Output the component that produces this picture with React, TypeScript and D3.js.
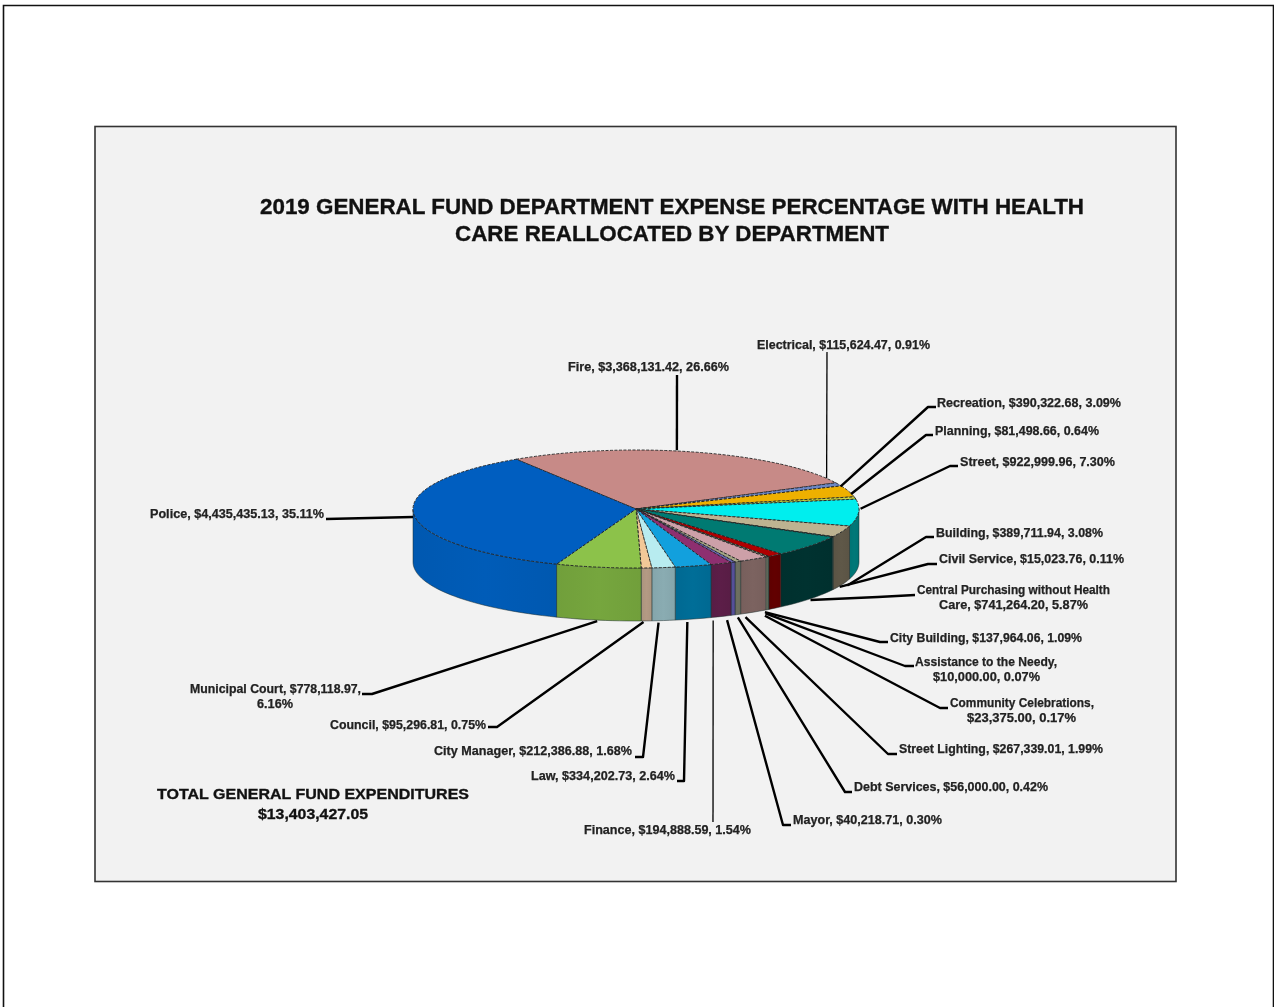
import React from "react";
import * as d3 from "d3";

const departments = ["Fire","Electrical","Recreation","Planning","Street","Building","Civil Service","Central Purchasing without Health Care","City Building","Assistance to the Needy","Community Celebrations","Street Lighting","Debt Services","Mayor","Finance","Law","City Manager","Council","Municipal Court","Police"];
const expenses = [3368131.42,115624.47,390322.68,81498.66,922999.96,389711.94,15023.76,741264.20,137964.06,10000,23375,267339.01,56000,40218.71,194888.59,334202.73,212386.88,95296.81,778118.97,4435435.13];
const topColors = ["#c78a87","#6a86c4","#eeb000","#c8d23c","#00eeee","#bdb391","#3c7a6a","#007a72","#b00000","#8f9f80","#aab08c","#cda0a8","#a4a684","#6a68b8","#8e2f70","#12a0dd","#b8ecf0","#f2c898","#8cc24a","#005ec0"];
const sideColors = ["#8a5f5d","#4a5e8a","#a67b00","#8c9329","#007878","#5f5848","#2a5a50","#003230","#620000","#6b7b6a","#78806c","#7c6360","#6e7060","#56509a","#5c1e48","#006e98","#8aacb2","#b49a84","#76a63e","#005cb8"];

// label text per department, as printed in the source
const labelLines = [
  ["Fire, $3,368,131.42, 26.66%"],["Electrical, $115,624.47, 0.91%"],["Recreation, $390,322.68, 3.09%"],["Planning, $81,498.66, 0.64%"],
  ["Street, $922,999.96, 7.30%"],["Building, $389,711.94, 3.08%"],["Civil Service, $15,023.76, 0.11%"],["Central Purchasing without Health","Care, $741,264.20, 5.87%"],
  ["City Building, $137,964.06, 1.09%"],["Assistance to the Needy,","$10,000.00, 0.07%"],["Community Celebrations,","$23,375.00, 0.17%"],["Street Lighting, $267,339.01, 1.99%"],
  ["Debt Services, $56,000.00, 0.42%"],["Mayor, $40,218.71, 0.30%"],["Finance, $194,888.59, 1.54%"],["Law, $334,202.73, 2.64%"],
  ["City Manager, $212,386.88, 1.68%"],["Council, $95,296.81, 0.75%"],["Municipal Court, $778,118.97,","6.16%"],["Police, $4,435,435.13, 35.11%"],
];
const titleLines = ["2019 GENERAL FUND DEPARTMENT EXPENSE PERCENTAGE WITH HEALTH","CARE REALLOCATED BY DEPARTMENT"];
const totalLines = ["TOTAL GENERAL FUND EXPENDITURES","$13,403,427.05"];

// layout: [start x of each line, width of each line, centre y of first line], leader route after the pie anchor
const labelBoxes: [number, number, number][][] = [
  [[568,161,367]],[[757,173,345]],[[937,184,403]],[[935,164,431]],
  [[960,155,462]],[[936,167,533]],[[939,185,559]],[[917,193,590],[939,149,605]],
  [[890,192,638]],[[915,142,662],[933,107,677]],[[950,144,703],[967,109,718]],[[899,204,749]],
  [[854,194,787]],[[793,149,820]],[[584,167,830]],[[531,144,776]],
  [[434,198,751]],[[330,156,725]],[[190,171,689],[257,36,704]],[[150,174,514]],
];
const leaderRoutes: [number, number][][] = [
  [[677,375]],[[827,352]],[[928,407],[936,407]],[[926,435],[933,435]],
  [[950,466],[958,466]],[[926,537],[934,537]],[[928,564],[937,564]],[[878,597],[915,595]],
  [[880,642],[888,642]],[[905,666],[914,666]],[[940,708],[948,708]],[[888,754],[897,754]],
  [[845,792],[852,792]],[[783,825],[791,825]],[[713,822]],[[684,781],[677,781]],
  [[643,757],[635,757]],[[497,727],[488,727]],[[372,694],[362,694]],[[326,519]],
];
// small correction from the ideal ellipse point to where the source's leader touches the pie
const anchorNudge: [number, number][] = [
  [-19,-2],[-12,-6],[-8,-5],[-4,-4],[2,-4],[5,1],[7,-3],[1,1],
  [-10,4],[-3,4],[-2,6],[-8,5],[0,3],[-6,5],[-8,4],[-6,3],
  [-5,2],[-3,1],[-1,1],[-1,2],
];
const thinLeaders = new Set(["Electrical","Finance"]);

const W = 1274, H = 1007;
const cx = 636, cy = 509, rx = 223, ry = 59, depth = 53;
const deg = Math.PI / 180;

const pieGen = d3.pie<number>().sort(null).startAngle(-32.5 * deg).endAngle(327.5 * deg);
const slices = pieGen(expenses);
const arcGen = d3.arc<d3.PieArcDatum<number>>().innerRadius(0).outerRadius(rx);
const xAt = (a: number) => cx + rx * Math.sin(a);
const yAt = (a: number) => cy - ry * Math.cos(a);
const lineGen = d3.line<[number, number]>();

function sidePath(a0: number, a1: number): string | null {
  const lo = Math.max(a0, Math.PI / 2), hi = Math.min(a1, 1.5 * Math.PI);
  if (hi <= lo) return null;
  const n = Math.max(2, Math.ceil((hi - lo) / (2 * deg)));
  const as = d3.range(n + 1).map(i => lo + ((hi - lo) * i) / n);
  const top = as.map(a => [xAt(a), yAt(a)] as [number, number]);
  const bottom = as.slice().reverse().map(a => [xAt(a), yAt(a) + depth] as [number, number]);
  return lineGen([...top, ...bottom]) + "Z";
}

function anchor(i: number): [number, number] {
  const s = slices[i];
  const mid = (s.startAngle + s.endAngle) / 2;
  const front = Math.cos(mid) < -0.2;
  const [dx, dy] = anchorNudge[i];
  return [xAt(mid) + dx, yAt(mid) + (front ? depth : 0) + dy];
}

export default function App() {
  const font = "'Liberation Sans', Arial, sans-serif";
  return (
    <svg width={W} height={H} viewBox={`0 0 ${W} ${H}`} style={{ position: "absolute", left: 0, top: 0, background: "#fff" }}>
      <defs>
        {slices.map((_, i) => (
          <linearGradient key={i} id={`side${i}`} x1="0" x2="1" y1="0" y2="0">
            <stop offset="0" stopColor={d3.color(sideColors[i])!.darker(0.12).formatHex()} />
            <stop offset="0.5" stopColor={sideColors[i]} />
            <stop offset="1" stopColor={d3.color(sideColors[i])!.darker(0.12).formatHex()} />
          </linearGradient>
        ))}
      </defs>
      <g style={{ filter: "blur(0.6px)" }}>
        <path d={`M3.5 1007V5.5H1273.5V1007`} fill="none" stroke="#111" strokeWidth={1.6} />
        <rect x={95} y={126.5} width={1081} height={755} fill="#f2f2f2" stroke="#333" strokeWidth={1.6} />

        <g fontFamily={font} fontWeight="bold" fill="#111" stroke="#111" strokeWidth={0.35} textAnchor="middle">
          {titleLines.map((t, i) => (
            <text key={t} x={672} y={206 + i * 27} dominantBaseline="central" fontSize={22}
              textLength={i === 0 ? 824 : 434} lengthAdjust="spacingAndGlyphs">{t}</text>
          ))}
          <text x={313} y={793} dominantBaseline="central" fontSize={15.5} textLength={312} lengthAdjust="spacingAndGlyphs">{totalLines[0]}</text>
          <text x={313} y={813} dominantBaseline="central" fontSize={15.5} textLength={110} lengthAdjust="spacingAndGlyphs">{totalLines[1]}</text>
        </g>

        {/* pie walls */}
        {slices.map((s, i) => {
          const d = sidePath(s.startAngle, s.endAngle);
          return d ? <path key={i} d={d} fill={`url(#side${i})`} stroke="#1a2a2a" strokeWidth={0.5} /> : null;
        })}
        {/* pie top */}
        <g transform={`translate(${cx},${cy}) scale(1,${ry / rx})`}>
          {slices.map((s, i) => (
            <path key={i} d={arcGen(s)!} fill={topColors[i]} stroke="#222" strokeWidth={0.9}
              strokeDasharray="3 1.5" vectorEffect="non-scaling-stroke" />
          ))}
        </g>

        {/* leaders */}
        {departments.map((dep, i) => (
          <path key={dep} d={lineGen([anchor(i), ...leaderRoutes[i]])!} fill="none" stroke="#000"
            strokeWidth={thinLeaders.has(dep) ? 1.3 : 2.4} strokeLinejoin="round" />
        ))}

        {/* labels */}
        <g fontFamily={font} fontWeight="bold" fontSize={12} fill="#222" stroke="#222" strokeWidth={0.25}>
          {labelLines.map((lines, i) =>
            lines.map((t, j) => (
              <text key={t} x={labelBoxes[i][j][0]} y={labelBoxes[i][j][2]} dominantBaseline="central"
                textLength={labelBoxes[i][j][1]} lengthAdjust="spacingAndGlyphs">{t}</text>
            ))
          )}
        </g>
      </g>
    </svg>
  );
}
